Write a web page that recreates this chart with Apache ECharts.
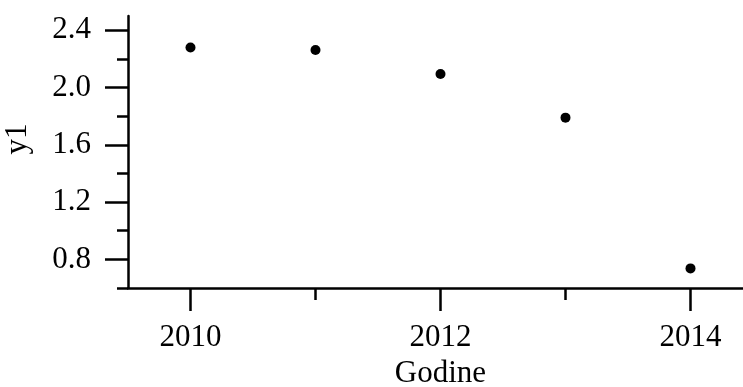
<!DOCTYPE html>
<html>
<head>
<meta charset="utf-8">
<script src="https://cdn.jsdelivr.net/npm/echarts@6/dist/echarts.min.js"></script>
<style>html,body{margin:0;padding:0;background:#fff;}#main{width:743px;height:387px;}</style>
</head>
<body>
<div id="main"></div>
<script>
const years = [2010, 2011, 2012, 2013, 2014];
const y1Values = [2.28, 2.262, 2.095, 1.79, 0.737];
const xMajorTicks = [2010, 2012, 2014];
const xMinorTicks = [2011, 2013];
const yMajorTicks = [0.8, 1.2, 1.6, 2.0, 2.4];
const yMinorTicks = [0.6, 1.0, 1.4, 1.8, 2.2];
const xAxisTitle = 'Godine';
const yAxisTitle = 'y1';

const FONT = '"Liberation Serif", "Times New Roman", serif';
const FS = 31;
const chart = echarts.init(document.getElementById('main'), null, {renderer: 'canvas'});
const lineStyle = {color: '#000', width: 2.5};
chart.setOption({
  animation: false,
  backgroundColor: '#fff',
  grid: {left: 128, right: -10, top: 16, bottom: 99, containLabel: false, outerBoundsMode: 'none'},
  xAxis: [{
    type: 'value', min: 2009.5, max: 2014.5, position: 'bottom',
    name: xAxisTitle, nameLocation: 'middle', nameGap: 64,
    nameTextStyle: {fontFamily: FONT, fontSize: FS, color: '#000'},
    axisLine: {show: true, lineStyle: lineStyle},
    axisTick: {show: true, length: 23, lineStyle: lineStyle, customValues: xMajorTicks},
    axisLabel: {show: true, margin: 34, fontFamily: FONT, fontSize: FS, color: '#000',
      customValues: xMajorTicks, formatter: v => String(Math.round(v))},
    splitLine: {show: false}
  }, {
    type: 'value', min: 2009.5, max: 2014.5, position: 'bottom',
    axisLine: {show: false},
    axisTick: {show: true, length: 12, lineStyle: lineStyle, customValues: xMinorTicks},
    axisLabel: {show: false},
    splitLine: {show: false}
  }],
  yAxis: [{
    type: 'value', min: 0.6, max: 2.5, position: 'left',
    name: yAxisTitle, nameLocation: 'middle', nameGap: 95,
    nameTextStyle: {fontFamily: FONT, fontSize: FS, color: '#000', padding: [0, 0, 0, 26]},
    axisLine: {show: true, lineStyle: lineStyle},
    axisTick: {show: true, length: 23, lineStyle: lineStyle, customValues: yMajorTicks},
    axisLabel: {show: true, margin: 37, fontFamily: FONT, fontSize: FS, color: '#000',
      customValues: yMajorTicks, formatter: v => v.toFixed(1)},
    splitLine: {show: false}
  }, {
    type: 'value', min: 0.6, max: 2.5, position: 'left',
    axisLine: {show: false},
    axisTick: {show: true, length: 11, lineStyle: lineStyle, customValues: yMinorTicks},
    axisLabel: {show: false},
    splitLine: {show: false}
  }],
  series: [{
    type: 'scatter', xAxisIndex: 0, yAxisIndex: 0,
    data: years.map((y, i) => [y, y1Values[i]]),
    symbol: 'circle', symbolSize: 10,
    itemStyle: {color: '#000', opacity: 1}
  }]
});
</script>
</body>
</html>
